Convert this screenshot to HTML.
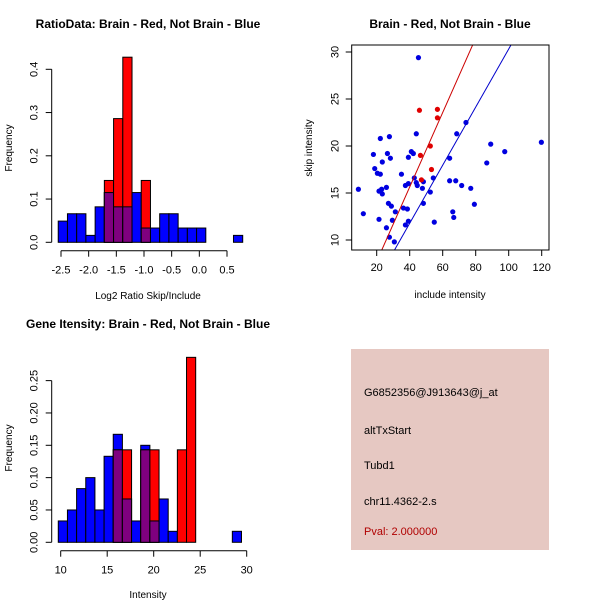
<!DOCTYPE html>
<html><head><meta charset="utf-8"><style>
body{margin:0;background:#fff}
svg{display:block;font-family:"Liberation Sans",sans-serif}
</style></head><body>
<svg id="s" width="600" height="600" viewBox="0 0 600 600">
<rect x="351" y="349" width="198" height="201" fill="#e6c8c2"/>
<g font-size="11">
<text x="364" y="396">G6852356@J913643@j_at</text>
<text x="364" y="434">altTxStart</text>
<text x="364" y="469">Tubd1</text>
<text x="364" y="505">chr11.4362-2.s</text>
<text x="364" y="535" fill="#b00000">Pval: 2.000000</text>
</g>
</svg>
<script>
// Histogram 1 data (Log2 ratio)
const h1Start=-2.55, h1Width=0.1667;
const h1Blue=[0.049,0.066,0.066,0.016,0.082,0.115,0.082,0.082,0.115,0.033,0.033,0.066,0.066,0.033,0.033,0.033,0,0,0,0.016];
const h1Red=[0,0,0,0,0,0.143,0.286,0.428,0,0.143,0,0,0,0,0,0,0,0,0,0];
const h1XTicks=[-2.5,-2.0,-1.5,-1.0,-0.5,0.0,0.5];
const h1YTicks=[0,0.1,0.2,0.3,0.4];
// Histogram 2 data (Intensity)
const h2Start=9.74, h2Width=0.985;
const h2Blue=[0.033,0.05,0.083,0.1,0.05,0.133,0.167,0.067,0.033,0.15,0.033,0.067,0.017,0,0,0,0,0,0,0.017];
const h2Red=[0,0,0,0,0,0,0.143,0.143,0,0.143,0.143,0,0,0.143,0.286,0,0,0,0,0];
const h2XTicks=[10,15,20,25,30];
const h2YTicks=[0,0.05,0.10,0.15,0.20,0.25];
// Scatter data
const blueX=[8.9,11.9,18,18.8,20.4,22.2,22.2,23.4,21.4,23,23.4,21.4,25.9,26.5,27.7,28.3,27.1,28.9,25.9,27.7,29.5,31.3,30.7,35,36.2,37.4,37.4,38.6,39.2,39.2,39.2,41,42.2,42.8,44,44,44.6,45.3,47.7,48.3,48.3,52.5,54.3,54.9,64.2,64.2,66.1,66.7,67.9,68.5,71.5,74.1,77,79.2,86.7,89.1,97.6,119.8];
const blueY=[15.4,12.8,19.1,17.6,17.1,17.0,20.8,18.3,15.2,15.4,14.9,12.2,15.6,19.2,21.0,18.7,13.9,13.6,11.3,10.3,12.1,13.0,9.8,17.0,13.4,15.8,11.6,13.3,12.0,16.0,18.8,19.4,19.2,16.6,21.3,16.1,15.8,29.4,15.5,16.2,13.9,15.1,16.6,11.9,18.7,16.3,13.0,12.4,16.3,21.3,15.8,22.5,15.5,13.8,18.2,20.2,19.4,20.4];
const redX=[45.9,56.8,56.8,52.5,46.5,53.2,47.1];
const redY=[23.8,23.9,23.0,20.0,19.0,17.5,16.4];
const redLine=[-0.2,0.396];
const blueLine=[-0.58,0.309];
const scXTicks=[20,40,60,80,100,120];
const scYTicks=[10,15,20,25,30];

const svg=document.getElementById('s');
const NS='http://www.w3.org/2000/svg';
function mk(tag,attrs,parent){const e=document.createElementNS(NS,tag);for(const k in attrs)e.setAttribute(k,attrs[k]);(parent||svg).appendChild(e);return e;}
function txt(x,y,s,size,opts,parent){const t=mk('text',Object.assign({x:x,y:y,'font-size':size,'text-anchor':'middle'},opts||{}),parent);t.textContent=s;return t;}

function hist(cfg){
  const g=mk('g',{});
  
  
  const sx=v=>cfg.x0+(v-cfg.xv0)*cfg.kx;
  const sy=v=>cfg.y0-v*cfg.ky;
  const n=cfg.blue.length;
  for(let i=0;i<n;i++){
    const a=sx(cfg.start+i*cfg.width), b=sx(cfg.start+(i+1)*cfg.width);
    const bv=cfg.blue[i], rv=cfg.red[i];
    if(bv>0){const r=mk('rect',{x:a,y:sy(bv),width:b-a,height:sy(0)-sy(bv),fill:'#0000ff',stroke:'#000','stroke-width':1},g);
      }
    if(rv>0){const r=mk('rect',{x:a,y:sy(rv),width:b-a,height:sy(0)-sy(rv),fill:'#ff0000',stroke:'#000','stroke-width':1},g);
      }
    if(bv>0&&rv>0){const m=Math.min(bv,rv);const r=mk('rect',{x:a,y:sy(m),width:b-a,height:sy(0)-sy(m),fill:'#7f007f',stroke:'#000','stroke-width':1},g);
      }
  }
  // x axis
  const xa=mk('g',{},g);
  
  const t0=sx(cfg.xticks[0]),t1=sx(cfg.xticks[cfg.xticks.length-1]);
  mk('line',{x1:t0,x2:t1,y1:cfg.axY,y2:cfg.axY,stroke:'#000'},xa);
  cfg.xticks.forEach((v,i)=>{mk('line',{x1:sx(v),x2:sx(v),y1:cfg.axY,y2:cfg.axY+6,stroke:'#000'},xa);
    txt(sx(v),cfg.axY+23,cfg.xlabels[i],11,{},xa);});
  const ya=mk('g',{},g);
  
  mk('line',{x1:cfg.axX,x2:cfg.axX,y1:sy(cfg.yticks[0]),y2:sy(cfg.yticks[cfg.yticks.length-1]),stroke:'#000'},ya);
  cfg.yticks.forEach((v,i)=>{const y=sy(v);mk('line',{x1:cfg.axX-6,x2:cfg.axX,y1:y,y2:y,stroke:'#000'},ya);
    txt(cfg.axX-14,y,cfg.ylabels[i],11,{transform:`rotate(-90 ${cfg.axX-14} ${y})`},ya);});
  const tt=txt(cfg.titleX,cfg.titleY,cfg.title,12,{'font-weight':'bold'},g);
  
  const xt=txt(cfg.titleX,cfg.xTitleY,cfg.xtitle,10,{},g);
  
  const yc=(sy(0)+cfg.y0-170)/2+20;
  const yt=txt(12,cfg.yTitleY,'Frequency',10,{transform:`rotate(-90 12 ${cfg.yTitleY})`},g);
  
}
hist({name:'ratio-histogram',start:h1Start,width:h1Width,blue:h1Blue,red:h1Red,x0:61,xv0:-2.5,kx:55.33,y0:242.3,ky:432.5,
  xticks:h1XTicks,xlabels:h1XTicks.map(v=>v.toFixed(1)),yticks:h1YTicks,ylabels:h1YTicks.map(v=>v.toFixed(1)),axY:250.7,axX:51.7,
  title:'RatioData: Brain - Red, Not Brain - Blue',titleX:148,titleY:28,xtitle:'Log2 Ratio Skip/Include',xTitleY:299,yTitleY:148});
hist({name:'intensity-histogram',start:h2Start,width:h2Width,blue:h2Blue,red:h2Red,x0:60.7,xv0:10,kx:9.3,y0:542.3,ky:646.7,
  xticks:h2XTicks,xlabels:h2XTicks.map(String),yticks:h2YTicks,ylabels:h2YTicks.map(v=>v.toFixed(2)),axY:550.7,axX:51.7,
  title:'Gene Itensity: Brain - Red, Not Brain - Blue',titleX:148,titleY:328,xtitle:'Intensity',xTitleY:598,yTitleY:448});

// scatter
const sg=mk('g',{});

const px=v=>376.7+(v-20)*1.65, py=v=>52-(v-30)*9.4;
const L=351.7,R=549,T=45,B=250;
mk('clipPath',{id:'cp'},sg);
mk('rect',{x:L,y:T,width:R-L,height:B-T},document.getElementById('cp'));
blueX.forEach((x,i)=>{const c=mk('circle',{cx:px(x),cy:py(blueY[i]),r:2.6,fill:'#0000e0'},sg);
  });
redX.forEach((x,i)=>{const c=mk('circle',{cx:px(x),cy:py(redY[i]),r:2.6,fill:'#e00000'},sg);
  });
[[redLine,'#cc0000','red-fit-line'],[blueLine,'#0000cc','blue-fit-line']].forEach(([ln,col,nm])=>{
  const xa=0,xb=140;
  const l=mk('line',{x1:px(xa),y1:py(ln[0]+ln[1]*xa),x2:px(xb),y2:py(ln[0]+ln[1]*xb),stroke:col,'stroke-width':1,'clip-path':'url(#cp)'},sg);
  });
const box=mk('rect',{x:L,y:T,width:R-L,height:B-T,fill:'none',stroke:'#000'},sg);

const sxa=mk('g',{},sg);

mk('line',{x1:px(scXTicks[0]),x2:px(scXTicks[scXTicks.length-1]),y1:B,y2:B,stroke:'#000'},sxa);
scXTicks.forEach(v=>{mk('line',{x1:px(v),x2:px(v),y1:B,y2:B+6,stroke:'#000'},sxa);txt(px(v),B+21,String(v),11,{},sxa);});
const sya=mk('g',{},sg);

scYTicks.forEach(v=>{const y=py(v);mk('line',{x1:L-6,x2:L,y1:y,y2:y,stroke:'#000'},sya);txt(L-13,y,String(v),11,{transform:`rotate(-90 ${L-13} ${y})`},sya);});
const st=txt(450,28,'Brain - Red, Not Brain - Blue',12,{'font-weight':'bold'},sg);

const sxt=txt(450,298,'include intensity',10,{},sg);

const syt=txt(312,148,'skip intensity',10,{transform:'rotate(-90 312 148)'},sg);

</script>
</body></html>
